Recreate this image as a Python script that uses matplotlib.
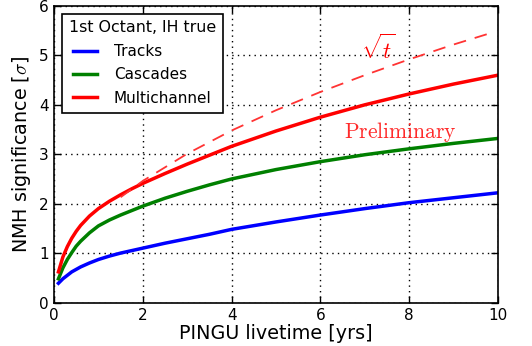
import matplotlib
matplotlib.use("Agg")
import matplotlib.pyplot as plt

t = [0.1, 0.2, 0.3, 0.4, 0.5, 0.6, 0.8, 1.0, 1.25, 1.5, 1.75, 2.0, 2.5, 3.0, 3.5,
     4.0, 5.0, 6.0, 7.0, 8.0, 9.0, 10.0]
tracks = [0.39, 0.48, 0.55, 0.62, 0.67, 0.72, 0.80, 0.87, 0.94, 1.00, 1.05, 1.10, 1.20,
          1.29, 1.38, 1.48, 1.63, 1.77, 1.90, 2.02, 2.12, 2.22]
cascades = [0.48, 0.70, 0.87, 1.01, 1.14, 1.24, 1.41, 1.55, 1.67, 1.77, 1.86, 1.95, 2.11,
            2.25, 2.38, 2.50, 2.69, 2.85, 2.99, 3.11, 3.22, 3.32]
multi = [0.62, 0.92, 1.13, 1.30, 1.44, 1.56, 1.75, 1.90, 2.05, 2.18, 2.30, 2.41, 2.61,
         2.80, 2.98, 3.16, 3.47, 3.75, 4.00, 4.22, 4.42, 4.60]
t_sqrt = [1.5, 2.0, 3.0, 4.0, 5.0, 6.0, 7.0, 8.0, 9.0, 9.9]
sqrt_ref = [2.13, 2.46, 3.01, 3.48, 3.89, 4.26, 4.60, 4.92, 5.22, 5.47]

xticks = [0, 2, 4, 6, 8, 10]
yticks = [0, 1, 2, 3, 4, 5, 6]

plt.rcParams['mathtext.fontset'] = 'cm'
plt.rcParams['font.family'] = 'DejaVu Sans'

fig = plt.figure(figsize=(5.32, 3.46), dpi=100)
ax = fig.add_axes([0.1015, 0.1257, 0.8345, 0.857])

ax.plot(t, tracks, color='#0000ff', lw=2.5, label='Tracks')
ax.plot(t, cascades, color='#008000', lw=2.5, label='Cascades')
ax.plot(t, multi, color='#ff0000', lw=2.5, label='Multichannel')
ax.plot(t_sqrt, sqrt_ref, color='#ff3333', lw=1.3, ls=(0, (7, 5)))

ax.set_xlim(0, 10)
ax.set_ylim(0, 6)
ax.set_xticks(xticks)
ax.set_yticks(yticks)
ax.tick_params(direction='in', top=True, right=True, labelsize=11, length=5, width=1, pad=4)
ax.grid(True, color='black', ls=(0, (1, 3)), lw=1)
for s in ax.spines.values():
    s.set_linewidth(1.2)

ax.set_xlabel('PINGU livetime [yrs]', fontsize=13.8, labelpad=1)
ax.set_ylabel(r'NMH significance [$\sigma$]', fontsize=13.8, labelpad=4)

ax.text(7.8, 3.46, r'$\mathrm{Preliminary}$', color='#ff2a2a', fontsize=15.5,
        ha='center', va='center')
ax.text(7.3, 5.12, r'$\sqrt{t}$', color='#ff0000', fontsize=16.5, ha='center', va='center')

leg = ax.legend(loc='upper left', title='1st Octant, IH true', fontsize=11,
                title_fontsize=11.4, fancybox=False, framealpha=1, edgecolor='black',
                handlelength=1.6, handletextpad=1.1, labelspacing=0.55,
                borderpad=0.45, borderaxespad=0.5)
leg.get_frame().set_linewidth(1.2)

fig.savefig('out.png', dpi=100)
